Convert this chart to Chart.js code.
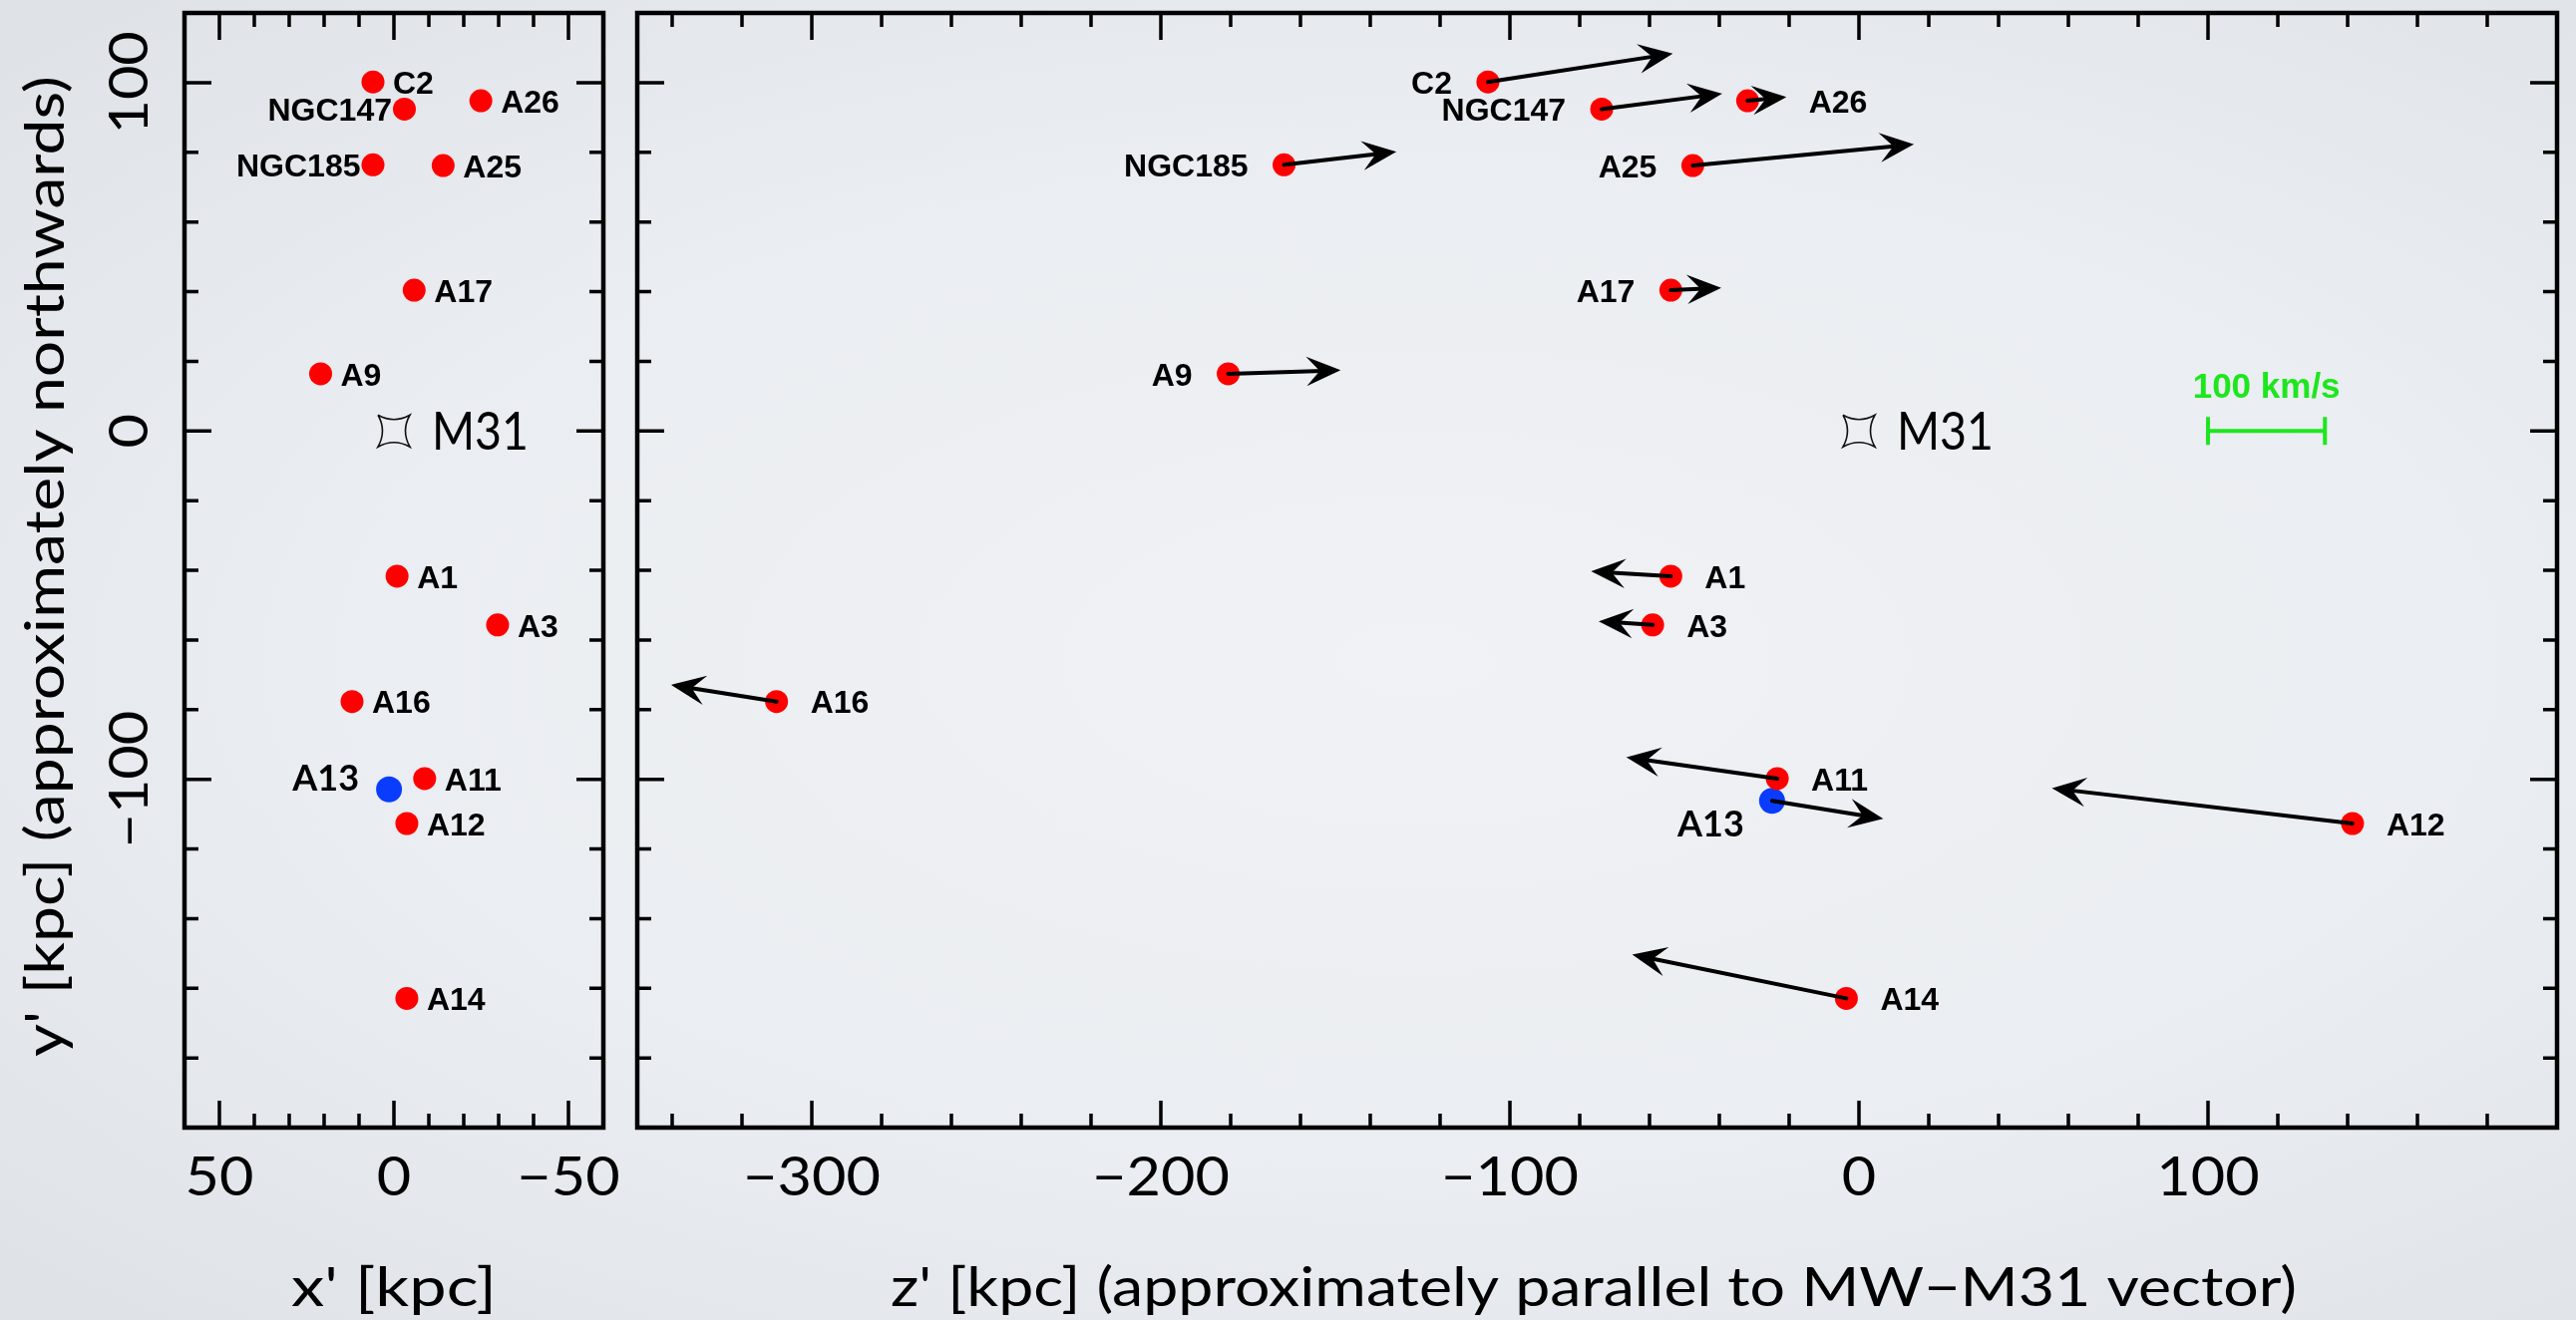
<!DOCTYPE html>
<html>
<head>
<meta charset="utf-8">
<title>M31 satellites: positions and velocities</title>
<script src="https://cdn.jsdelivr.net/npm/chart.js@4.4.1/dist/chart.umd.min.js"></script>
<style>
  html, body { margin: 0; padding: 0; }
  body {
    width: 2583px;
    height: 1324px;
    overflow: hidden;
    background: radial-gradient(ellipse at 55% 50%, #f0f2f5 0%, #eaedf1 55%, #dee2e7 100%);
  }
  canvas { position: absolute; left: 0; top: 0; }
</style>
</head>
<body>
<canvas id="skyPanel" width="2583" height="1324"></canvas>
<canvas id="depthPanel" width="2583" height="1324"></canvas>
<script>
// satellites (red), positions in kpc
const names  = ["C2", "NGC147", "A26", "NGC185", "A25", "A17", "A9", "A1", "A3", "A16", "A11", "A12", "A14"];
const xPrime = [6.0, -3.0, -24.9, 6.0, -14.1, -5.8, 21.0, -0.9, -29.7, 12.0, -8.8, -3.7, -3.7];
const yPrime = [100.2, 92.4, 94.8, 76.4, 76.2, 40.4, 16.4, -41.7, -55.7, -77.7, -99.8, -112.7, -162.9];
const zPrime = [-106.3, -73.7, -31.9, -164.7, -47.6, -53.9, -180.7, -53.9, -59.1, -310.1, -23.4, 141.4, -3.6];

// velocity components in the z'-y' plane, km/s
const velZ = [156, 101, 31, 94, 187, 41, 94, -66, -44, -88, -127, -255, -181];
const velY = [24, 13, 3, 11, 18, 2, 3, 4, 3, 14, 18, 30, 37];

// And XIII is drawn in blue
const a13Name = "A13";
const a13Sky = { x: 1.4, y: -102.9 };
const a13Depth = { z: -24.9, y: -106.2 };
const a13Vel = { z: 93, y: -15 };

// which labels sit on the left of their dot
const leftLabelsSky = ["NGC147", "NGC185"];
const leftLabelsDepth = ["C2", "NGC147", "NGC185", "A25", "A17", "A9"];

// axes
const Y_MIN = -200, Y_MAX = 120;
const skyTicks = [50, 0, -50];
const depthTicks = [-300, -200, -100, 0, 100];
const yTicks = [100, 0, -100];

// length of 100 km/s in plot units, and the scale bar drawn with it
const KPC_PER_100KMS = 33.5;
const scaleBarStart = 100;
const scaleBarLabel = "100 km/s";

const AXIS_FONT = '"Lato", "DejaVu Sans", sans-serif';
const NAME_FONT = 'bold 32px "Liberation Sans", Arial, sans-serif';
const RED = "#ff0000";
const BLUE = "#0a3cff";
const GREEN = "#1ee61e";

function fmt(v) {
  return v < 0 ? "\u2212" + Math.abs(v) : String(v);
}

function stepValues(min, max, step) {
  const out = [];
  for (let v = Math.ceil(min / step) * step; v <= max + 1e-9; v += step) {
    out.push(Math.round(v * 1000) / 1000);
  }
  return out;
}

// draw text squeezed or stretched to a given width (the slide font is wide)
function fillFitted(ctx, text, x, y, width, align) {
  const w = ctx.measureText(text).width;
  ctx.save();
  ctx.translate(x, y);
  ctx.scale(width / w, 1);
  ctx.textAlign = align || "center";
  ctx.fillText(text, 0, 0);
  ctx.restore();
}

function drawArrow(ctx, x0, y0, x1, y1) {
  const dx = x1 - x0, dy = y1 - y0;
  const len = Math.hypot(dx, dy);
  if (len < 1) return;
  const ux = dx / len, uy = dy / len;
  const nx = -uy, ny = ux;
  const L = 28, W = 12, N = 17;
  ctx.save();
  ctx.strokeStyle = "#000";
  ctx.fillStyle = "#000";
  ctx.lineWidth = 4;
  ctx.lineCap = "round";
  ctx.beginPath();
  ctx.moveTo(x0, y0);
  ctx.lineTo(x1 - ux * (N - 2), y1 - uy * (N - 2));
  ctx.stroke();
  ctx.lineJoin = "miter";
  ctx.lineWidth = 2;
  ctx.beginPath();
  ctx.moveTo(x1, y1);
  ctx.lineTo(x1 - ux * L + nx * W, y1 - uy * L + ny * W);
  ctx.lineTo(x1 - ux * N, y1 - uy * N);
  ctx.lineTo(x1 - ux * L - nx * W, y1 - uy * L - ny * W);
  ctx.closePath();
  ctx.fill();
  ctx.stroke();
  ctx.restore();
}

// concave-sided square marking M31
function drawM31(ctx, cx, cy) {
  const h = 16, d = 9;
  ctx.save();
  ctx.strokeStyle = "#111";
  ctx.lineWidth = 1.6;
  ctx.beginPath();
  ctx.moveTo(cx - h, cy - h);
  ctx.quadraticCurveTo(cx, cy - h + d, cx + h, cy - h);
  ctx.quadraticCurveTo(cx + h - d, cy, cx + h, cy + h);
  ctx.quadraticCurveTo(cx, cy + h - d, cx - h, cy + h);
  ctx.quadraticCurveTo(cx - h + d, cy, cx - h, cy - h);
  ctx.stroke();
  ctx.font = "400 53px " + AXIS_FONT;
  ctx.fillStyle = "#000";
  ctx.textBaseline = "alphabetic";
  fillFitted(ctx, "M31", cx + 38, cy + 19, 97, "left");
  ctx.restore();
}

// frame, inward ticks, tick labels and axis titles
const framePlugin = {
  id: "frame",
  afterDraw(chart, args, opts) {
    const { ctx, chartArea: a, scales } = chart;
    const xs = scales.x, ys = scales.y;
    ctx.save();
    ctx.strokeStyle = "#000";
    ctx.lineCap = "butt";

    ctx.lineWidth = 3.5;
    const major = 27, minor = 14;
    stepValues(Math.min(xs.min, xs.max), Math.max(xs.min, xs.max), opts.xMinor).forEach((v) => {
      const px = xs.getPixelForValue(v);
      if (px <= a.left + 2 || px >= a.right - 2) return;
      const len = v % opts.xMajor === 0 ? major : minor;
      ctx.beginPath();
      ctx.moveTo(px, a.bottom); ctx.lineTo(px, a.bottom - len);
      ctx.moveTo(px, a.top); ctx.lineTo(px, a.top + len);
      ctx.stroke();
    });
    stepValues(ys.min, ys.max, 20).forEach((v) => {
      const py = ys.getPixelForValue(v);
      if (py <= a.top + 2 || py >= a.bottom - 2) return;
      const len = v % 100 === 0 ? major : minor;
      ctx.beginPath();
      ctx.moveTo(a.left, py); ctx.lineTo(a.left + len, py);
      ctx.moveTo(a.right, py); ctx.lineTo(a.right - len, py);
      ctx.stroke();
    });

    ctx.lineWidth = 4.5;
    ctx.strokeRect(a.left, a.top, a.right - a.left, a.bottom - a.top);

    ctx.fillStyle = "#000";
    ctx.font = "400 54px " + AXIS_FONT;
    ctx.textAlign = "center";
    ctx.textBaseline = "alphabetic";
    opts.xLabels.forEach((v) => {
      const s = fmt(v);
      const w = ctx.measureText(s).width;
      fillFitted(ctx, s, xs.getPixelForValue(v), 1199, w * 1.1);
    });
    fillFitted(ctx, opts.xTitle, opts.xTitleX, 1310, opts.xTitleWidth);

    if (opts.yLabels) {
      opts.yLabels.forEach((v) => {
        const s = fmt(v);
        const w = ctx.measureText(s).width;
        ctx.save();
        ctx.translate(148, ys.getPixelForValue(v));
        ctx.rotate(-Math.PI / 2);
        fillFitted(ctx, s, 0, 0, w * 1.1);
        ctx.restore();
      });
      ctx.save();
      ctx.translate(64, 568);
      ctx.rotate(-Math.PI / 2);
      fillFitted(ctx, opts.yTitle, 0, 0, opts.yTitleWidth);
      ctx.restore();
    }
    ctx.restore();
  },
};

// arrows, names, M31 and the velocity scale bar
const markPlugin = {
  id: "marks",
  afterDatasetsDraw(chart, args, opts) {
    const { ctx, scales } = chart;
    const xs = scales.x, ys = scales.y;
    const px = (v) => xs.getPixelForValue(v);
    const py = (v) => ys.getPixelForValue(v);

    drawM31(ctx, px(0), py(0));

    const hor = opts.horizontal;
    const tips = [];
    if (opts.withVelocity) {
      hor.forEach((h, i) => {
        const tz = h + (velZ[i] / 100) * KPC_PER_100KMS;
        const ty = yPrime[i] + (velY[i] / 100) * KPC_PER_100KMS;
        tips[i] = px(tz);
        drawArrow(ctx, px(h), py(yPrime[i]), px(tz), py(ty));
      });
      const bz = a13Depth.z + (a13Vel.z / 100) * KPC_PER_100KMS;
      const by = a13Depth.y + (a13Vel.y / 100) * KPC_PER_100KMS;
      drawArrow(ctx, px(a13Depth.z), py(a13Depth.y), px(bz), py(by));

      // scale bar
      const x0 = px(scaleBarStart), x1 = px(scaleBarStart + KPC_PER_100KMS), y0 = py(0);
      ctx.save();
      ctx.strokeStyle = GREEN;
      ctx.lineWidth = 4;
      ctx.beginPath();
      ctx.moveTo(x0, y0); ctx.lineTo(x1, y0);
      ctx.moveTo(x0, y0 - 14); ctx.lineTo(x0, y0 + 14);
      ctx.moveTo(x1, y0 - 14); ctx.lineTo(x1, y0 + 14);
      ctx.stroke();
      ctx.fillStyle = GREEN;
      ctx.font = 'bold 35px "Liberation Sans", Arial, sans-serif';
      ctx.textAlign = "center";
      ctx.fillText(scaleBarLabel, (x0 + x1) / 2, y0 - 33);
      ctx.restore();
    }

    ctx.save();
    ctx.fillStyle = "#000";
    ctx.font = NAME_FONT;
    ctx.textBaseline = "alphabetic";
    names.forEach((n, i) => {
      const cx = px(hor[i]), cy = py(yPrime[i]) + 11.7;
      if (opts.leftLabels.includes(n)) {
        ctx.textAlign = "right";
        ctx.fillText(n, cx - opts.gapLeft, cy);
      } else {
        ctx.textAlign = "left";
        let lx = cx + opts.gapRight;
        if (opts.withVelocity && tips[i] > cx) lx = Math.max(lx, tips[i] + 25);
        ctx.fillText(n, lx, cy);
      }
    });

    // A13 label in its own typeface
    ctx.font = "700 36px " + AXIS_FONT;
    ctx.textAlign = "right";
    if (opts.withVelocity) {
      ctx.fillText(a13Name, px(a13Depth.z) - 28, py(a13Depth.y) + 36);
    } else {
      ctx.fillText(a13Name, px(a13Sky.x) - 30, py(a13Sky.y) + 1);
    }
    ctx.restore();
  },
};

function makePanel(canvasId, padding, xMin, xMax, reverse, horizontal, blue, plugins) {
  const red = horizontal.map((h, i) => ({ x: h, y: yPrime[i] }));
  return new Chart(document.getElementById(canvasId), {
    type: "scatter",
    data: {
      datasets: [
        {
          data: red,
          backgroundColor: RED,
          borderWidth: 0,
          pointRadius: 11.5,
        },
        {
          data: [blue],
          backgroundColor: BLUE,
          borderWidth: 0,
          pointRadius: 13,
        },
      ],
    },
    options: {
      responsive: false,
      animation: false,
      events: [],
      clip: false,
      layout: { padding },
      scales: {
        x: { type: "linear", display: false, min: xMin, max: xMax, reverse },
        y: { type: "linear", display: false, min: Y_MIN, max: Y_MAX },
      },
      plugins: Object.assign({ legend: { display: false }, tooltip: { enabled: false } }, plugins),
    },
    plugins: [framePlugin, markPlugin],
  });
}

// x'-y' panel (sky plane)
makePanel(
  "skyPanel",
  { left: 185, right: 2583 - 605, top: 12, bottom: 1324 - 1131 },
  -60, 60, true,
  xPrime,
  { x: a13Sky.x, y: a13Sky.y },
  {
    frame: {
      xMinor: 10, xMajor: 50, xLabels: skyTicks,
      xTitle: "x' [kpc]", xTitleX: 395, xTitleWidth: 206,
      yLabels: yTicks, yTitle: "y' [kpc] (approximately northwards)", yTitleWidth: 984,
    },
    marks: {
      horizontal: xPrime, withVelocity: false,
      leftLabels: leftLabelsSky, gapLeft: 12.5, gapRight: 20,
    },
  }
);

// z'-y' panel (along the line of sight) with velocity arrows
makePanel(
  "depthPanel",
  { left: 639, right: 2583 - 2564, top: 12, bottom: 1324 - 1131 },
  -350, 200, false,
  zPrime,
  { x: a13Depth.z, y: a13Depth.y },
  {
    frame: {
      xMinor: 20, xMajor: 100, xLabels: depthTicks,
      xTitle: "z' [kpc] (approximately parallel to MW\u2212M31 vector)", xTitleX: 1598, xTitleWidth: 1410,
    },
    marks: {
      horizontal: zPrime, withVelocity: true,
      leftLabels: leftLabelsDepth, gapLeft: 36, gapRight: 34,
    },
  }
);
</script>
</body>
</html>
